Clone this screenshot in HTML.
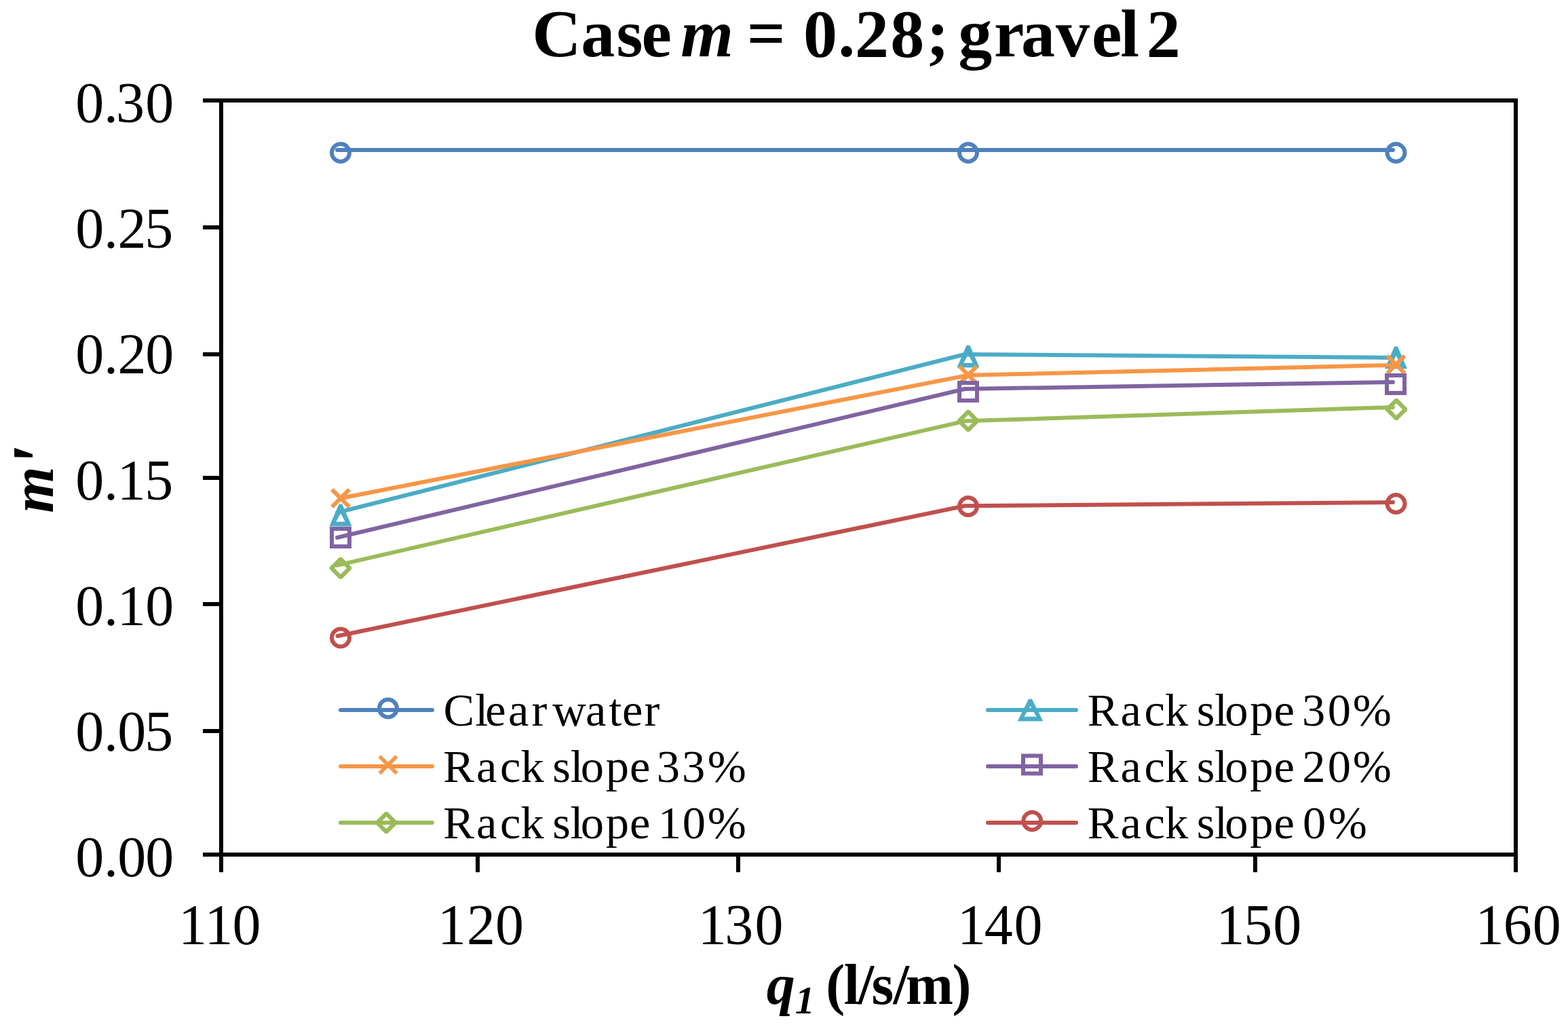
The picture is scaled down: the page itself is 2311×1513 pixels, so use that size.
<!DOCTYPE html>
<html>
<head>
<meta charset="utf-8">
<title>Case m = 0.28; gravel 2</title>
<style>
html,body{margin:0;padding:0;background:#fff;}
body{width:2311px;height:1513px;overflow:hidden;}
svg{display:block;}
text{font-family:"Liberation Serif","Times New Roman",serif;fill:#000;}
</style>
</head>
<body>
<svg width="2311" height="1513" viewBox="0 0 2311 1513">
<rect x="0" y="0" width="2311" height="1513" fill="#fff"/>
<text y="83" font-size="100" font-weight="bold"><tspan x="784.3 856.3 908.4 945.4 989.8">Case </tspan><tspan font-style="italic" x="1003.2 1081.0">m </tspan><tspan x="1100.8 1157.8 1184.0 1235.2 1260.0 1312.3 1365.5 1398.8 1412.2 1465.0 1505.0 1555.9 1609.0 1651.3 1679.1 1689.8">= 0.28; gravel 2</tspan></text>
<g fill="#000" shape-rendering="crispEdges">
  <rect x="323" y="145" width="1914" height="6"/>
  <rect x="323" y="1256" width="1914" height="6"/>
  <rect x="323" y="145" width="6" height="1117"/>
  <rect x="2231" y="145" width="6" height="1117"/>
  <rect x="299" y="145" width="24" height="6"/>
  <rect x="299" y="332" width="24" height="6"/>
  <rect x="299" y="519" width="24" height="6"/>
  <rect x="299" y="701" width="24" height="6"/>
  <rect x="299" y="887" width="24" height="6"/>
  <rect x="299" y="1074" width="24" height="6"/>
  <rect x="299" y="1256" width="24" height="6"/>
  <rect x="323" y="1262" width="6" height="23"/>
  <rect x="701" y="1262" width="6" height="23"/>
  <rect x="1085" y="1262" width="6" height="23"/>
  <rect x="1469" y="1262" width="6" height="23"/>
  <rect x="1847" y="1262" width="6" height="23"/>
  <rect x="2231" y="1262" width="6" height="23"/>
</g>
<g font-size="84">
  <text y="180.0" x="111.3 152.9 171.0 214.2">0.30</text>
  <text y="365.2" x="111.3 152.9 173.5 213.2">0.25</text>
  <text y="550.3" x="111.3 152.9 173.5 214.2">0.20</text>
  <text y="735.5" x="111.3 152.9 172.7 213.2">0.15</text>
  <text y="920.7" x="111.3 152.9 172.7 214.2">0.10</text>
  <text y="1105.8" x="111.3 152.9 173.3 213.2">0.05</text>
  <text y="1291.0" x="111.3 152.9 173.3 214.3">0.00</text>
</g>
<g font-size="84">
  <text y="1391" x="262.9 301.6 342.6">110</text>
  <text y="1391" x="644.9 688.0 730.0">120</text>
  <text y="1391" x="1028.7 1068.2 1112.6">130</text>
  <text y="1391" x="1410.9 1450.7 1494.5">140</text>
  <text y="1391" x="1792.6 1833.2 1876.2">150</text>
  <text y="1391" x="2174.5 2215.7 2258.8">160</text>
</g>
<text font-weight="bold" font-size="84"><tspan font-style="italic" x="1129.7" y="1479">q</tspan><tspan font-style="italic" font-size="58" x="1171.8 1200.8" y="1493">1 </tspan><tspan x="1217.2 1243.8 1264.7 1284.4 1316.5 1334.9 1403.5" y="1479">(l/s/m)</tspan></text>
<text transform="translate(78,755.7) rotate(-90)" font-size="88" font-weight="bold" font-style="italic"><tspan x="0">m</tspan><tspan x="66.2" dy="18.3" font-size="115">'</tspan></text>
<g font-size="68.5">
  <text y="1068.5" x="653.4 700.2 715.2 749.1 783.4 806.2 814.2 863.1 897.3 916.9 949.6">Clear water</text>
  <text y="1152" x="653.3 701.9 736.9 767.5 801.8 814.3 840.5 855.8 892.7 928.1 958.6 967.8 1004.9 1042.7">Rack slope 33%</text>
  <text y="1234.7" x="653.3 701.9 736.9 767.5 801.8 814.3 840.5 855.8 892.7 928.1 958.6 969.7 1005.7 1042.7">Rack slope 10%</text>
  <text y="1068.5" x="1602.8 1651.4 1686.4 1717.0 1751.3 1763.8 1790.0 1805.3 1842.2 1877.6 1908.1 1919.0 1956.7 1993.7">Rack slope 30%</text>
  <text y="1152" x="1602.8 1651.4 1686.4 1717.0 1751.3 1763.8 1790.0 1805.3 1842.2 1877.6 1908.1 1919.3 1956.7 1993.7">Rack slope 20%</text>
  <text y="1234.7" x="1602.8 1651.4 1686.4 1717.0 1751.3 1763.8 1790.0 1805.3 1842.2 1877.6 1908.1 1919.9 1957.8">Rack slope 0%</text>
</g>
<polyline fill="none" stroke="#4F81BD" stroke-width="6" stroke-linejoin="round" stroke-linecap="round" points="497,221 1422,221 2053,221"/>
<circle fill="none" stroke="#4F81BD" stroke-width="6" cx="502" cy="225" r="13"/>
<circle fill="none" stroke="#4F81BD" stroke-width="6" cx="1427" cy="225" r="13"/>
<circle fill="none" stroke="#4F81BD" stroke-width="6" cx="2057.5" cy="225" r="13"/>
<polyline fill="none" stroke="#C0504D" stroke-width="6" stroke-linejoin="round" stroke-linecap="round" points="497.5,937 1422,745.3 2053,740"/>
<circle fill="none" stroke="#C0504D" stroke-width="6" cx="502" cy="939.5" r="13"/>
<circle fill="none" stroke="#C0504D" stroke-width="6" cx="1427" cy="746" r="13"/>
<circle fill="none" stroke="#C0504D" stroke-width="6" cx="2057.5" cy="742" r="13"/>
<polyline fill="none" stroke="#9BBB59" stroke-width="6" stroke-linejoin="round" stroke-linecap="round" points="497,832.8 1422,620.3 2053,600"/>
<path fill="#9BBB59" fill-rule="evenodd" d="M500.2,821 L503.8,821 L518,835.2 L518,838.8 L503.8,853 L500.2,853 L486,838.8 L486,835.2 Z M502,828 L511,837 L502,846 L493,837 Z"/>
<path fill="#9BBB59" fill-rule="evenodd" d="M1425.2,604 L1428.8,604 L1443,618.2 L1443,621.8 L1428.8,636 L1425.2,636 L1411,621.8 L1411,618.2 Z M1427,611 L1436,620 L1427,629 L1418,620 Z"/>
<path fill="#9BBB59" fill-rule="evenodd" d="M2056.2,587 L2059.8,587 L2074,601.2 L2074,604.8 L2059.8,619 L2056.2,619 L2042,604.8 L2042,601.2 Z M2058,594 L2067,603 L2058,612 L2049,603 Z"/>
<polyline fill="none" stroke="#4BACC6" stroke-width="6" stroke-linejoin="round" stroke-linecap="round" points="497,755.2 1422,522 2053,526.9"/>
<path fill="#4BACC6" fill-rule="evenodd" stroke="#4BACC6" stroke-width="0.8" stroke-linejoin="round" d="M499.8,743.1 L504.2,743.1 L518,775.1 L486,775.1 Z M502,755.6 L509.3,769.1 L494.7,769.1 Z"/>
<path fill="#4BACC6" fill-rule="evenodd" stroke="#4BACC6" stroke-width="0.8" stroke-linejoin="round" d="M1424.8,509.1 L1429.2,509.1 L1443,541.1 L1411,541.1 Z M1427,521.6 L1434.3,535.1 L1419.7,535.1 Z"/>
<path fill="#4BACC6" fill-rule="evenodd" stroke="#4BACC6" stroke-width="0.8" stroke-linejoin="round" d="M2055.3,510.9 L2059.7,510.9 L2073.5,542.9 L2041.5,542.9 Z M2057.5,523.4 L2064.8,536.9 L2050.2,536.9 Z"/>
<polyline fill="none" stroke="#F79646" stroke-width="6" stroke-linejoin="round" stroke-linecap="round" points="502,734 1427,552.8 2057.5,537.8"/>
<path fill="none" stroke="#F79646" stroke-width="6" stroke-linecap="butt" d="M489.2,721.2 L514.8,746.8 M514.8,721.2 L489.2,746.8"/>
<path fill="none" stroke="#F79646" stroke-width="6" stroke-linecap="butt" d="M1414.2,539.7 L1439.8,565.3 M1439.8,539.7 L1414.2,565.3"/>
<path fill="none" stroke="#F79646" stroke-width="6" stroke-linecap="butt" d="M2044.7,524.2 L2070.3,549.8 M2070.3,524.2 L2044.7,549.8"/>
<polyline fill="none" stroke="#8064A2" stroke-width="6" stroke-linejoin="round" stroke-linecap="round" points="497,792 1422,573 2053,563"/>
<rect fill="none" stroke="#8064A2" stroke-width="6" x="489" y="779" width="26" height="26"/>
<rect fill="none" stroke="#8064A2" stroke-width="6" x="1414" y="564" width="26" height="26"/>
<rect fill="none" stroke="#8064A2" stroke-width="6" x="2044" y="553" width="26" height="26"/>
<line stroke="#4F81BD" stroke-width="6" stroke-linecap="round" x1="502" y1="1046" x2="637" y2="1046"/>
<circle fill="none" stroke="#4F81BD" stroke-width="6" cx="572" cy="1043.5" r="13"/>
<line stroke="#F79646" stroke-width="6" stroke-linecap="round" x1="502" y1="1129" x2="637" y2="1129"/>
<path fill="none" stroke="#F79646" stroke-width="5.5" stroke-linecap="butt" d="M559.4,1114.2 L584.6,1139.4 M584.6,1114.2 L559.4,1139.4"/>
<line stroke="#9BBB59" stroke-width="6" stroke-linecap="round" x1="502" y1="1212" x2="637" y2="1212"/>
<path fill="#9BBB59" fill-rule="evenodd" d="M567.6,1196 L571.2,1196 L585.4,1210.2 L585.4,1213.8 L571.2,1228 L567.6,1228 L553.4,1213.8 L553.4,1210.2 Z M569.4,1203 L578.4,1212 L569.4,1221 L560.4,1212 Z"/>
<line stroke="#4BACC6" stroke-width="6" stroke-linecap="round" x1="1456" y1="1046" x2="1586" y2="1046"/>
<path fill="#4BACC6" fill-rule="evenodd" stroke="#4BACC6" stroke-width="0.8" stroke-linejoin="round" d="M1516.3,1030.1 L1520.7,1030.1 L1536.7,1062.1 L1500.3,1062.1 Z M1518.5,1039.6 L1528.3,1056.2 L1508.7,1056.2 Z"/>
<line stroke="#8064A2" stroke-width="6" stroke-linecap="round" x1="1456" y1="1129" x2="1586" y2="1129"/>
<rect fill="none" stroke="#8064A2" stroke-width="6" x="1508" y="1113.5" width="26" height="26"/>
<line stroke="#C0504D" stroke-width="6" stroke-linecap="round" x1="1456" y1="1212" x2="1586" y2="1212"/>
<circle fill="none" stroke="#C0504D" stroke-width="6" cx="1521.3" cy="1209.5" r="13"/>
</svg>
</body>
</html>
